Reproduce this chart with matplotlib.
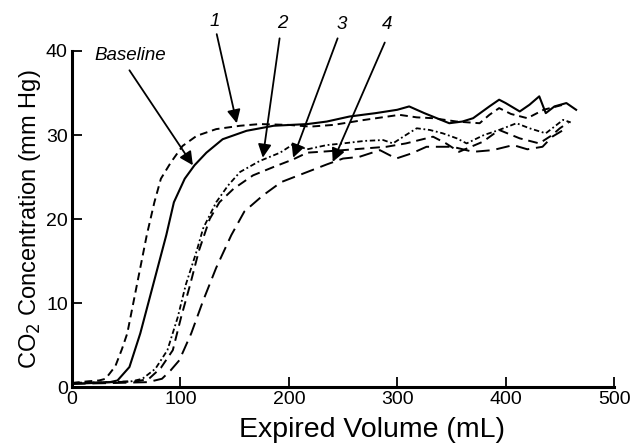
import matplotlib.pyplot as plt

plt.rcParams['font.family'] = ['Liberation Sans', 'DejaVu Sans']

# values
vol_1 = [0, 15, 25, 31, 40, 46, 51, 57, 63, 69, 76, 82, 91, 102, 115, 133, 155, 173, 200,
         220, 241, 270, 302, 318, 333, 355, 376, 385, 394, 405, 420, 435, 453]
co2_1 = [0.5, 0.7, 0.8, 1.0, 2.5, 4.5, 6.4, 10.3, 14.2, 18.1, 22, 24.8, 26.7, 28.7, 29.9, 30.7, 31.1, 31.3, 31.2,
         31.0, 31.2, 31.8, 32.4, 32.1, 32.0, 31.6, 31.4, 32.4, 33.2, 32.5, 32.0, 33.0, 33.6]

vol_base = [0, 20, 35, 42, 53, 63, 71, 79, 87, 94, 104, 113, 124, 139, 161, 186, 217, 235, 256,
            280, 300, 311, 325, 348, 360, 370, 385, 394, 400, 413, 422, 431, 437, 445, 456, 465]
co2_base = [0.4, 0.5, 0.6, 0.8, 2.4, 6.4, 10.3, 14.2, 18.1, 22, 24.8, 26.4, 27.9, 29.5, 30.5, 31.1, 31.3, 31.6, 32.2,
            32.6, 33.0, 33.4, 32.6, 31.4, 31.6, 32.0, 33.4, 34.2, 33.8, 32.8, 33.6, 34.6, 32.6, 33.4, 33.8, 33.0]

vol_2 = [0, 30, 55, 65, 77, 88, 97.5, 105, 115, 121, 133, 144, 155, 173, 192, 204, 217, 235, 250,
         270, 287, 296, 308, 318, 330, 342, 355, 364, 380, 394, 410, 422, 437, 445, 453, 460]
co2_2 = [0.5, 0.6, 0.7, 1.0, 2.2, 4.4, 8.3, 12.2, 16.2, 18.9, 22, 24, 25.6, 26.9, 27.9, 28.9, 28.3, 28.8, 29.0,
         29.3, 29.4, 29.0, 30.0, 30.8, 30.6, 30.2, 29.6, 29.0, 30.0, 30.6, 31.4, 30.8, 30.2, 31.0, 31.8, 31.5]

vol_3 = [0, 40, 60, 71, 82, 93, 100.6, 109, 117, 127, 136, 149, 167, 186, 204, 217, 229, 250, 270,
         290, 308, 333, 345, 357, 368, 379, 394, 413, 431, 443, 450, 458]
co2_3 = [0.5, 0.6, 0.7, 1.0, 2.3, 4.4, 8.3, 12.2, 16.2, 20, 22, 23.6, 25.2, 26.2, 27.1, 27.9, 28.0, 28.2, 28.4,
         28.6, 29.0, 29.8, 29.0, 28.0, 28.6, 29.2, 30.6, 29.6, 29.0, 30.0, 30.8, 31.5]

vol_4 = [0, 40, 70, 83, 91, 99, 110, 121, 133, 147, 159, 176, 193, 217, 235, 250, 265, 284, 299,
         313, 327, 351, 370, 388, 407, 420, 434, 443, 452]
co2_4 = [0.4, 0.5, 0.6, 1.0, 2.0, 3.2, 6.4, 10.3, 14.2, 18.1, 20.9, 22.8, 24.4, 25.6, 26.5, 27.2, 27.4, 28.2, 27.2,
         27.8, 28.6, 28.6, 28.0, 28.2, 28.8, 28.3, 28.6, 29.8, 30.5]

# label text, label position, arrow tail and tip
labels = ['Baseline', '1', '2', '3', '4']
label_xy = [(21, 39.5), (132, 43.5), (194, 43.3), (249, 43.1), (291, 43.1)]
tail_xy = [(53, 37.7), (133.5, 42.0), (191.5, 41.5), (245, 41.5), (288.5, 41.0)]
tip_xy = [(111.5, 26.4), (152, 31.4), (176, 27.3), (204, 27.3), (240.5, 26.8)]

fig = plt.figure(figsize=(6.37, 4.43), dpi=100)
ax = fig.add_axes([0.113, 0.126, 0.851, 0.759])

ax.plot(vol_1, co2_1, color='black', lw=1.4, dashes=(4, 2.5))
ax.plot(vol_base, co2_base, color='black', lw=1.5)
ax.plot(vol_2, co2_2, color='black', lw=1.3, dashes=(3, 1.5, 1, 1.5))
ax.plot(vol_3, co2_3, color='black', lw=1.4, dashes=(5, 3))
ax.plot(vol_4, co2_4, color='black', lw=1.4, dashes=(7, 3.5))

for i, lab in enumerate(labels):
    ax.text(label_xy[i][0], label_xy[i][1], lab, fontsize=13.5, style='italic',
            ha='left' if i == 0 else 'center', va='center')
    ax.annotate('', xy=tip_xy[i], xytext=tail_xy[i], annotation_clip=False,
                arrowprops=dict(arrowstyle='-|>', color='black', lw=1.3, mutation_scale=20,
                                shrinkA=0, shrinkB=0))

ax.set_xlim(0, 500)
ax.set_ylim(0, 40)
ax.set_xticks([0, 100, 200, 300, 400, 500])
ax.set_yticks([0, 10, 20, 30, 40])
for s in ['top', 'right']:
    ax.spines[s].set_visible(False)
for s in ['left', 'bottom']:
    ax.spines[s].set_linewidth(2.2)
ax.tick_params(direction='in', length=7, width=1.3, labelsize=14, pad=3)
for t in ax.get_xticklabels() + ax.get_yticklabels():
    t.set_family(['Liberation Sans Narrow', 'Liberation Sans'])

ax.set_xlabel('Expired Volume (mL)', fontsize=20.5, labelpad=2)
ax.xaxis.set_label_coords(0.553, -0.09)
ax.set_ylabel('CO$_2$ Concentration (mm Hg)', fontsize=17, labelpad=2)

plt.savefig('out.png', dpi=100)
